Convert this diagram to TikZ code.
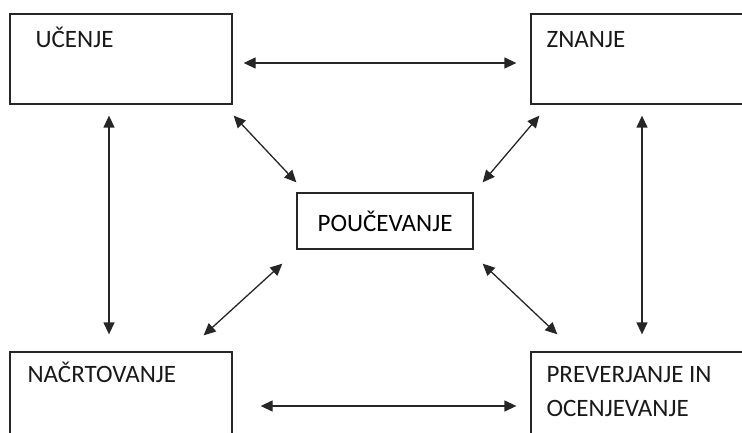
\documentclass[tikz,border=0pt]{standalone}
\usepackage{fontspec}
\setmainfont{Carlito}
\usetikzlibrary{arrows.meta,positioning}

\begin{document}
\begin{tikzpicture}[x=1pt, y=-1pt,
  box/.style={draw=black!85, line width=1.3pt, minimum width=222pt,
    minimum height=90pt, inner sep=0pt},
  word/.style={inner sep=0pt, anchor=base west, align=left,
    font=\fontsize{25}{34}\selectfont, text=black!90},
  arrow/.style={{Triangle[length=12pt,width=11pt]}-{Triangle[length=12pt,width=11pt]},
    line width=1.3pt, draw=black!85},
]
  \useasboundingbox (0,0) rectangle (742,433);
  \clip (0,0) rectangle (742,433);

  \node[box] (ucenje) at (121,59) {};
  \node[box] (znanje) at (642,59) {};
  \node[box, minimum width=176pt, minimum height=56pt,
    font=\fontsize{25}{34}\selectfont] (poucevanje) at (385,221) {POUČEVANJE};
  \node[box] (nacrtovanje) at (121,397) {};
  \node[box] (preverjanje) at (642,397) {};

  % texts sit in the upper left corner of their box
  \node[word] (ucenje text) at ([shift={(26,34)}]ucenje.north west) {UČENJE};
  \node[word] (znanje text) at ([shift={(16,34)}]znanje.north west) {ZNANJE};
  \node[word] (nacrtovanje text) at ([shift={(18,31)}]nacrtovanje.north west) {NAČRTOVANJE};
  \node[word] (preverjanje text) at ([shift={(16,65)}]preverjanje.north west)
    {PREVERJANJE IN\\OCENJEVANJE};

  \draw[arrow] ([shift={(11,4)}]ucenje.east) -- ([shift={(-14,4)}]znanje.west);
  \draw[arrow] ([shift={(28,9)}]nacrtovanje.east) -- ([shift={(-14,9)}]preverjanje.west);
  \draw[arrow] ([shift={(-12,11)}]ucenje.south) -- ([shift={(-12,-17)}]nacrtovanje.north);
  \draw[arrow] ([shift={(0,11)}]znanje.south) -- ([shift={(0,-17)}]preverjanje.north);
  \draw[arrow] ([shift={(1,11)}]ucenje.south east) -- ([shift={(0,-10)}]poucevanje.north west);
  \draw[arrow] ([shift={(9,11)}]znanje.south west) -- ([shift={(9,-10)}]poucevanje.north east);
  \draw[arrow] ([shift={(-14,14)}]poucevanje.south west) -- ([shift={(-29,-16)}]nacrtovanje.north east);
  \draw[arrow] ([shift={(9,14)}]poucevanje.south east) -- ([shift={(27,-17)}]preverjanje.north west);
\end{tikzpicture}
\end{document}
